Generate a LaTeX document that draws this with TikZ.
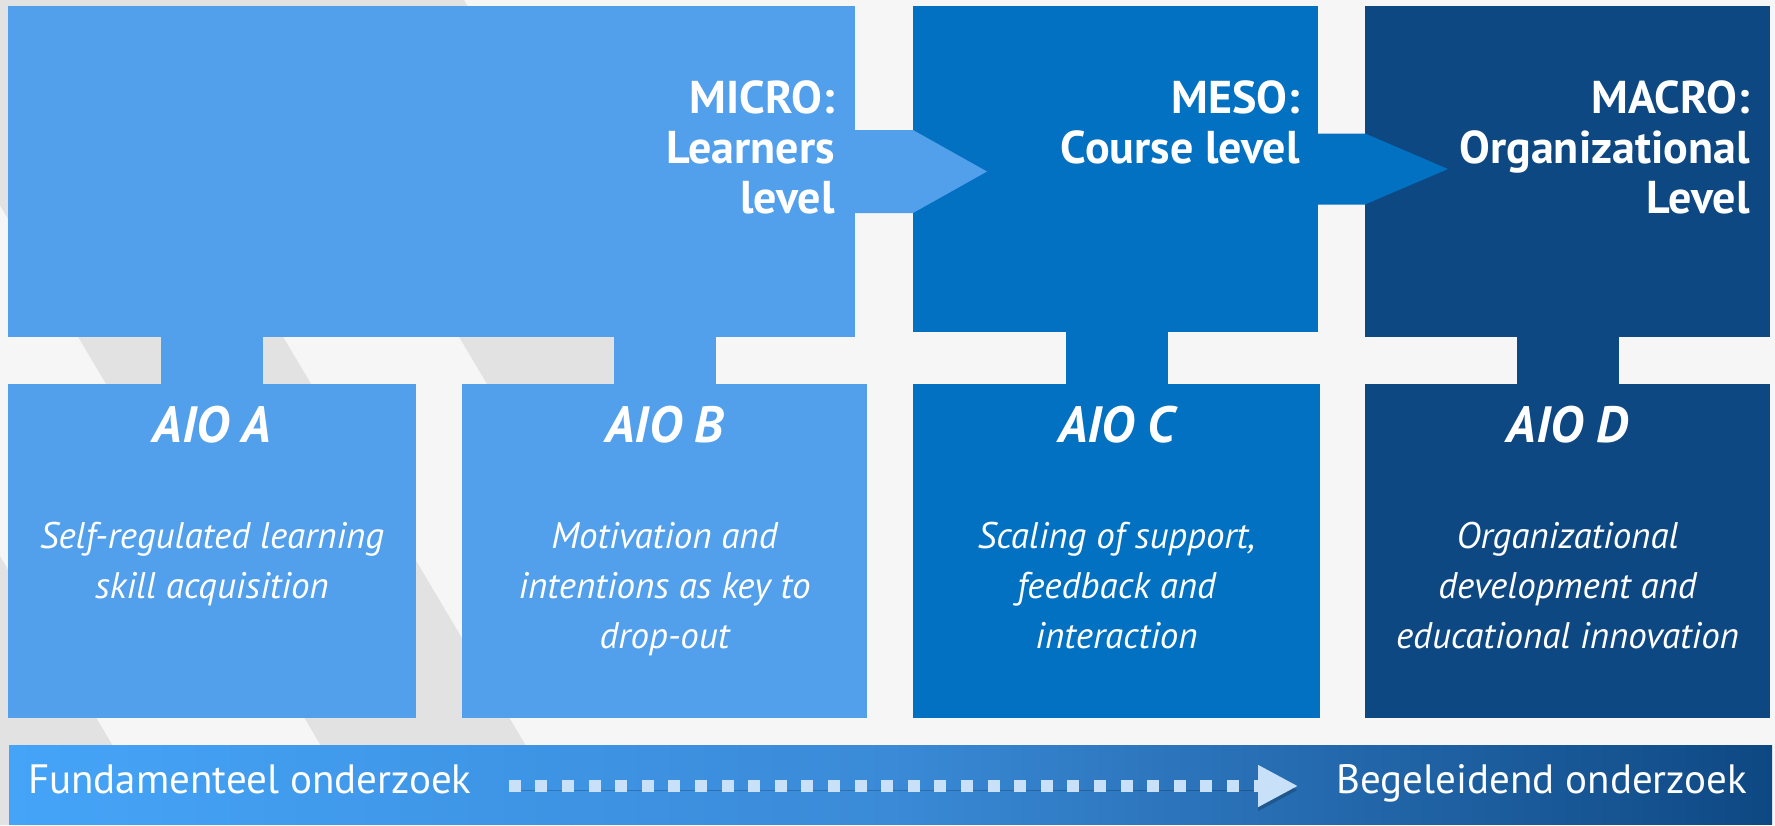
\documentclass[tikz,border=0pt]{standalone}
\usepackage{fontspec}
\setmainfont{PT Sans}
\usetikzlibrary{positioning, arrows.meta}

\definecolor{microblue}{RGB}{82,160,235}
\definecolor{mesoblue}{RGB}{2,113,193}
\definecolor{macroblue}{RGB}{14,72,131}
\definecolor{barblue}{RGB}{69,164,248}
\definecolor{barmid}{RGB}{58,138,215}
\definecolor{dashblue}{RGB}{200,224,248}
\definecolor{backgrey}{RGB}{246,246,246}
\definecolor{stripegrey}{RGB}{226,226,226}

\begin{document}
\begin{tikzpicture}[x=1pt, y=-1pt,
  block/.style={rectangle, inner sep=0pt, outer sep=0pt, fill=#1},
  lvltext/.style={text=white, align=right, inner sep=0pt, font=\bfseries\fontsize{46}{50}\selectfont},
  aiotitle/.style={text=white, inner sep=0pt, font=\bfseries\itshape\fontsize{51}{56}\selectfont},
  aiobody/.style={text=white, align=center, inner sep=0pt, font=\itshape\fontsize{37}{50}\selectfont},
  stub/.style={draw=#1, line width=102pt},
  bartext/.style={text=white, inner sep=0pt, text height=20pt, text depth=6pt, font=\fontsize{41}{50}\selectfont},
  flow/.style={draw=dashblue, line width=12.5pt, dash pattern=on 12pt off 14.6pt,
    -{Triangle[length=40pt,width=39pt]},
    preaction={draw=black, opacity=.2, transform canvas={yshift=-4pt}}}]

\useasboundingbox (0,0) rectangle (1775,825);
\fill[backgrey] (0,0) rectangle (1775,825);

% grey stripes of the slide background
\begin{scope}
\clip (0,0) rectangle (1775,825);
\fill[stripegrey] (-536,0) -- (-331,0) -- (160,825) -- (-45,825) -- cycle;
\fill[stripegrey] (-122,0) -- (83,0) -- (573,825) -- (368,825) -- cycle;
\fill[stripegrey] (259,0) -- (464,0) -- (844,640) -- (639,640) -- cycle;
\fill[stripegrey] (0,0) rectangle (460,6);
\end{scope}

% levels
\node[block=microblue, minimum width=847pt, minimum height=331pt] (micro) at (431.5,171.5) {};
\node[block=mesoblue, minimum width=405pt, minimum height=326pt] (meso) at (1115.5,169) {};
\node[block=macroblue, minimum width=405pt, minimum height=331pt] (macro) at (1567.5,171.5) {};

% AIO boxes
\node[block=microblue, minimum width=408pt, minimum height=334pt] (aioa) at (212,551) {};
\node[block=microblue, minimum width=405pt, minimum height=334pt] (aiob) at (664.5,551) {};
\node[block=mesoblue, minimum width=407pt, minimum height=334pt] (aioc) at (1116.5,551) {};
\node[block=macroblue, minimum width=405pt, minimum height=334pt] (aiod) at (1567.5,551) {};

\draw[stub=microblue] (micro.south -| aioa.north) -- (aioa.north);
\draw[stub=microblue] (micro.south -| aiob.north) -- (aiob.north);
\draw[stub=mesoblue] (meso.south -| aioc.north) -- (aioc.north);
\draw[stub=macroblue] (macro.south -| aiod.north) -- (aiod.north);

% arrows between the levels
\coordinate (mhead) at (meso.west |- micro.east);
\coordinate (shead) at (macro.west |- meso.east);
\fill[microblue] ([yshift=41.5pt]micro.east) -- ([yshift=41.5pt]mhead) -- ([xshift=74pt]mhead)
  -- ([yshift=-41.5pt]mhead) -- ([yshift=-41.5pt]micro.east) -- cycle;
\fill[mesoblue] ([yshift=35.5pt]meso.east) -- ([yshift=35.5pt]shead) -- ([xshift=83pt]shead)
  -- ([yshift=-35.5pt]shead) -- ([yshift=-35.5pt]meso.east) -- cycle;

\node[lvltext, below left=74pt and 20pt of micro.north east] (microlbl) {MICRO:\\Learners\\level};
\node[lvltext, below left=74pt and 18pt of meso.north east] (mesolbl) {MESO:\\Course level};
\node[lvltext, below left=74pt and 20pt of macro.north east] (macrolbl) {MACRO:\\Organizational\\Level};

\node[aiotitle, below=22pt of aioa.north] (aioatitle) {AIO A};
\node[aiotitle, below=22pt of aiob.north] (aiobtitle) {AIO B};
\node[aiotitle, below=22pt of aioc.north] (aioctitle) {AIO C};
\node[aiotitle, below=22pt of aiod.north] (aiodtitle) {AIO D};

\node[aiobody, below=138pt of aioa.north] (aioatext) {Self-regulated learning\\skill acquisition};
\node[aiobody, below=138pt of aiob.north] (aiobtext) {Motivation and\\intentions as key to\\drop-out};
\node[aiobody, below=138pt of aioc.north] (aioctext) {Scaling of support,\\feedback and\\interaction};
\node[aiobody, below=138pt of aiod.north] (aiodtext) {Organizational\\development and\\educational innovation};

% research bar
\node[rectangle, inner sep=0pt, minimum width=1763pt, minimum height=79pt,
  left color=barblue, right color=macroblue, middle color=barmid] (bar) at (890.5,784.5) {};
\node[bartext, anchor=base west] (fund) at ([xshift=19pt, yshift=-8.5pt]bar.west) {Fundamenteel onderzoek};
\node[bartext, anchor=base east] (begel) at ([xshift=-25pt, yshift=-8.5pt]bar.east) {Begeleidend onderzoek};
\draw[flow, shorten <=37pt, shorten >=38pt] (fund.east) -- (begel.west);

\end{tikzpicture}
\end{document}
